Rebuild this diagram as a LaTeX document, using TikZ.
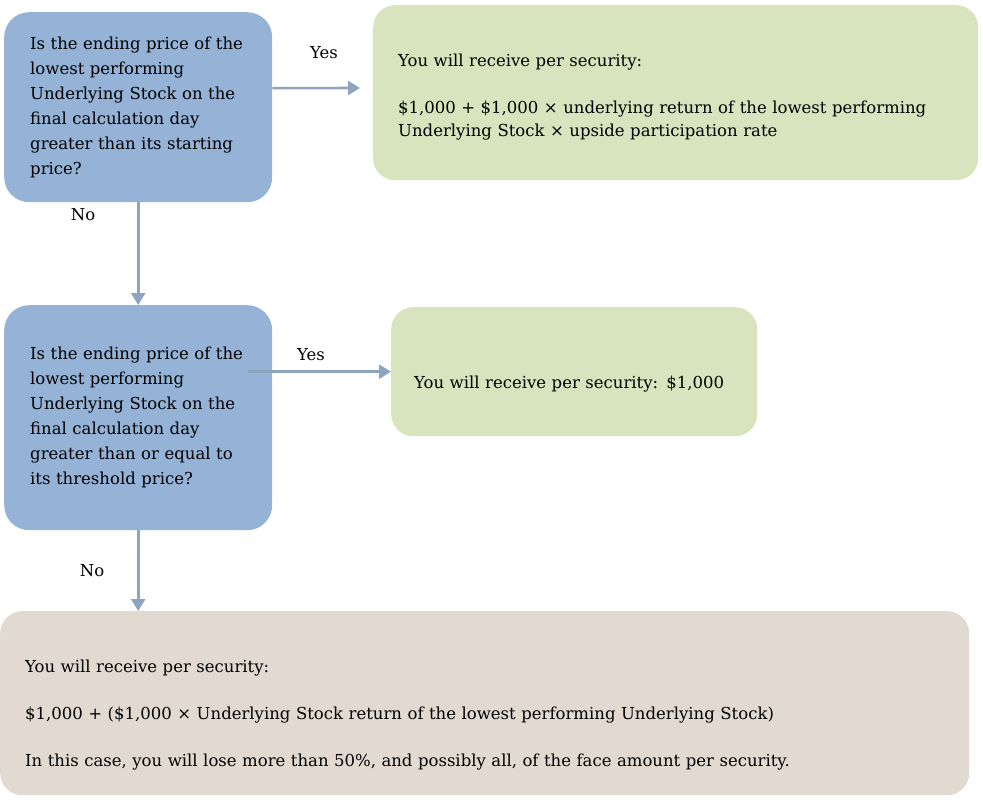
\documentclass[tikz,border=0pt]{standalone}
\usepackage{xcolor}
\usepackage{fontspec}
\setmainfont{DejaVu Serif}
\usepackage{tikz}
\usetikzlibrary{arrows.meta}
\usetikzlibrary{positioning}
\definecolor{qblue}{HTML}{95B3D7}
\definecolor{agreen}{HTML}{D7E4BD}
\definecolor{atan}{HTML}{E2DAD0}
\definecolor{flowline}{HTML}{8EA5C0}
\tikzset{ 
question/.style = { rectangle, draw = none, fill = qblue, rounded corners = 25pt, anchor = north west, align = left, inner xsep = 26pt, inner ysep = 0pt, font = \fontsize{16.5}{25}\selectfont },
answer/.style = { rectangle, draw = none, fill = agreen, rounded corners = 22pt, anchor = north west, align = left, inner ysep = 0pt, font = \fontsize{16.5}{23.5}\selectfont },
flow/.style = { draw = flowline, line width = 2.6pt, -{Triangle[length = 12pt, width = 14pt]} },
choice/.style = { font = \fontsize{16.5}{20}\selectfont },
}

\begin{document}
\begin{tikzpicture}[x = 1pt, y = 1pt]
    \useasboundingbox (0, 0) rectangle (983, -800);
    % first question and its answer
    \node[question, minimum width = 268pt, minimum height = 190pt, text width = 216pt] (q1) at (4, -12) {Is the ending price of the\\ lowest performing\\ Underlying Stock on the\\ final calculation day\\ greater than its starting\\ price?};
    \node[answer, minimum width = 605pt, minimum height = 175pt, text width = 555pt, inner xsep = 25pt] (a1) at (373, -5) {\rule{0pt}{21pt}You will receive per security:\\[23.5pt] \$1,000 + \$1,000 × underlying return of the lowest performing\\ Underlying Stock × upside participation rate};
    % second question and its answer
    \node[question, minimum width = 268pt, minimum height = 225pt, text width = 216pt] (q2) at (4, -305) {Is the ending price of the\\ lowest performing\\ Underlying Stock on the\\ final calculation day\\ greater than or equal to\\ its threshold price?};
    \node[answer, minimum width = 366pt, minimum height = 129pt, text width = 320pt, inner xsep = 23pt] (a2) at (391, -307) {\rule{0pt}{37pt}You will receive per security: \$1,000};
    % last answer
    \node[answer, fill = atan, minimum width = 969pt, minimum height = 184pt, text width = 919pt, inner xsep = 25pt] (a3) at (0, -611) {\rule{0pt}{37pt}You will receive per security:\\[23.5pt] \$1,000 + (\$1,000 × Underlying Stock return of the lowest performing Underlying Stock)\\[23.5pt] In this case, you will lose more than 50\%, and possibly all, of the face amount per security.};
    % connectors
    \coordinate (y1end) at (360, -88);
    \draw[flow] ([yshift = 19pt]q1.east) -- (y1end);
    \draw[flow] (q1.south) -- (q2.north);
    \draw[flow, shorten <= -24pt] (a2.west -| q2.east) -- (a2.west);
    \draw[flow] (q2.south) -- (q2.south |- a3.north);
    % labels
    \node[choice] (yes1) at (324, -53) {Yes};
    \node[choice] (no1) at (83, -215) {No};
    \node[choice] (yes2) at (311, -355) {Yes};
    \node[choice] (no2) at (92, -571) {No};
\end{tikzpicture}
\end{document}
